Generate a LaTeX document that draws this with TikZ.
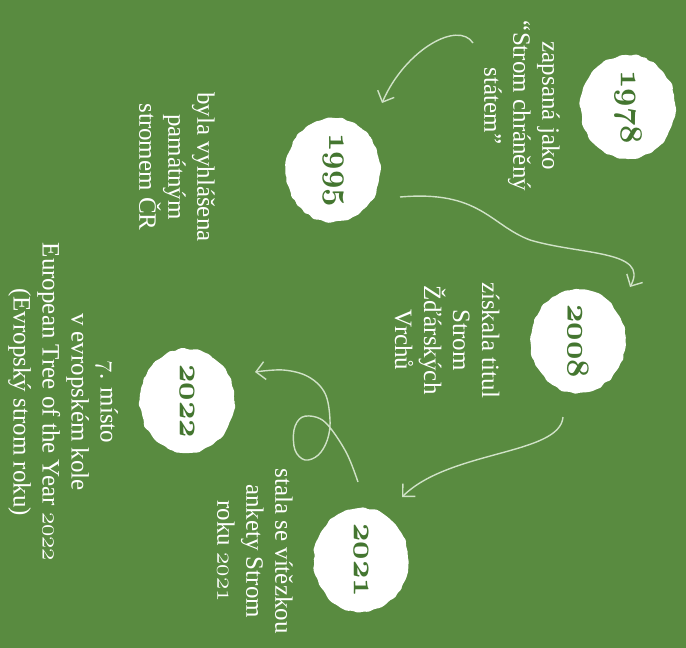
\RequirePackage{fix-cm}
\documentclass[tikz,border=0pt]{standalone}
\usepackage{fontspec}
\setmainfont{Liberation Serif}
\usepackage{tikz}
\usepackage{color}
\usetikzlibrary{arrows.meta,shapes.geometric,decorations.pathmorphing}

\definecolor{leaf}{RGB}{89,139,64}
\definecolor{darkleaf}{RGB}{68,118,48}
\definecolor{chalk}{RGB}{208,226,199}

\newcommand{\osnum}[1]{{\usefont{OML}{cmm}{m}{it}#1}}
\newcommand{\osyear}[1]{{\usefont{OML}{cmm}{b}{it}#1}}

\begin{document}
\begin{tikzpicture}[%
      x=1pt, y=-1pt,
      year/.style={ellipse, fill=white, minimum width=104pt, minimum height=95pt,
        inner sep=0pt, rotate=-90, text=darkleaf,
        font=\fontsize{32}{36}\selectfont,
        decorate, decoration={random steps, segment length=4pt, amplitude=1.2pt},
        rounded corners=1.5pt},
      note/.style={rotate=-90, align=center, text=white,
        font=\fontsize{25}{29}\selectfont},
      link/.style={color=chalk, line width=1.4pt,
        -{Straight Barb[length=9pt,width=18pt]}},
      ]
      \pgfmathsetseed{7}
      \fill [color=leaf] (0,0) rectangle (686,648);
      \useasboundingbox (0,0) rectangle (686,648);

      \node [year] (y1978) at (628,107) {\osyear{1978}};
      \node [year] (y1995) at (333,170) {\osyear{1995}};
      \node [year] (y2008) at (578,341) {\osyear{2008}};
      \node [year] (y2021) at (361,560) {\osyear{2021}};
      \node [year] (y2022) at (187,401) {\osyear{2022}};

      \node [note] (t1978) at (522,106) {zapsaná jako\\“Strom chráněný\\státem”};
      \node [note] (t1995) at (177,167) {byla vyhlášena\\památným\\stromem ČR};
      \node [note] (t2008) at (447,340) {získala titul\\Strom\\Žďárských\\Vrchů};
      \node [note] (t2021) at (255,551) {stala se vítězkou\\ankety Strom\\roku \osnum{2021}};
      \node [note] (t2022) at (63,402) {\osnum{7}. místo\\v evropském kole\\European Tree of the Year \osnum{2022}\\(Evropský strom roku)};

      \coordinate (a1s) at (473,43);
      \coordinate (a1e) at (382,103);
      \coordinate (a2s) at (400,197);
      \coordinate (a2e) at (630,287);
      \coordinate (a3s) at (563,417);
      \coordinate (a3e) at (402,497);
      \coordinate (a4s) at (358,482);
      \coordinate (a4e) at (255,372);

      \draw [link] (a1s) .. controls (458,20) and (405,50) .. (a1e);
      \draw [link] (a2s) .. controls (480,190) and (490,225) .. (530,240)
                          .. controls (580,255) and (650,250) .. (a2e);
      \draw [link] (a3s) .. controls (560,455) and (450,450) .. (a3e);
      \draw [link] plot [smooth, tension=0.6] coordinates {(a4s) (346.7,453.3)
            (329.3,426.7) (316.7,417.3) (301.7,417.3) (294,430) (295,450)
            (305,460) (318.3,455) (327.3,440) (330,420) (325,393.3)
            (308.3,376.7) (283.3,370) (a4e)};
      \end{tikzpicture}
\end{document}
